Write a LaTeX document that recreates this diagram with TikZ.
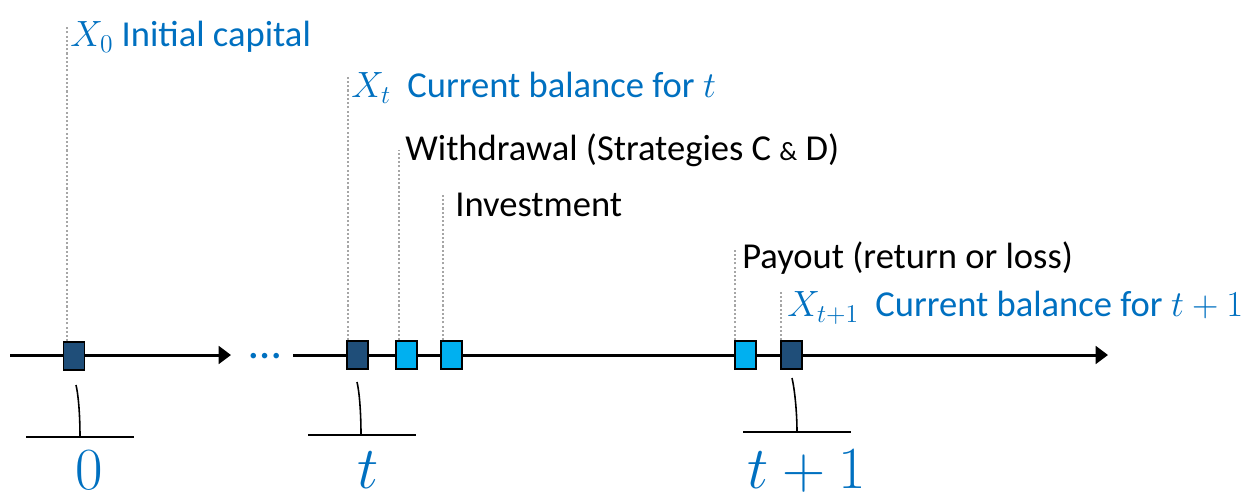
\RequirePackage{fix-cm}
\documentclass[tikz,border=0pt]{standalone}
\usepackage{fontspec}
\setmainfont{Carlito}
\usetikzlibrary{arrows.meta}
\definecolor{tblue}{HTML}{0070C0}
\definecolor{darkbox}{HTML}{1F4E79}
\definecolor{lightbox}{HTML}{00B0F0}
\begin{document}
\begin{tikzpicture}[x=0.02cm,y=-0.02cm,
 evbox/.style={draw=black,line width=0.8pt,minimum width=0.42cm,minimum height=0.56cm,inner sep=0pt},
 darkev/.style={evbox,fill=darkbox},
 lightev/.style={evbox,fill=lightbox},
 guide/.style={draw=gray!70,line width=0.6pt,dash pattern=on 1.2pt off 1.2pt},
 lbl/.style={anchor=west,inner sep=0pt,font=\fontsize{20.8}{24}\selectfont},
 bluelbl/.style={lbl,text=tblue},
 axisline/.style={line width=1.7pt,-{Triangle[length=7pt,width=10pt]}},
 tickln/.style={line width=0.9pt},
 big/.style={text=tblue,inner sep=0pt,anchor=base,font=\fontsize{34}{40}\selectfont}
]
\useasboundingbox (0,0) rectangle (1257,495);
% axis
\coordinate (a0) at (10,355);
\coordinate (a1) at (231,355);
\coordinate (a2) at (293,355);
\coordinate (a3) at (1108,355);
\draw[axisline] (a0) -- (a1);
\draw[axisline] (a2) -- (a3);
\node[text=tblue,inner sep=0pt,anchor=base,font=\fontsize{26}{30}\selectfont] (dots) at (265,358) {\textellipsis};
% boxes
\node[darkev] (b0) at (74,356) {};
\node[darkev] (bt) at (357.5,355) {};
\node[lightev] (bw) at (406.5,355) {};
\node[lightev] (bi) at (451.5,355) {};
\node[lightev] (bp) at (745.5,355) {};
\node[darkev] (bt1) at (791.5,355) {};
% labels
\node[bluelbl] (l0) at (70,37) {$X_0$ Initial capital};
\node[bluelbl] (lt) at (351,88) {$X_t$\hspace{0.45em}Current balance for $t$};
\node[lbl] (lw) at (405,150) {Withdrawal (Strategies C {\fontsize{15}{18}\selectfont\&} D)};
\node[lbl] (li) at (455,205) {Investment};
\node[lbl] (lp) at (742,258) {Payout (return or loss)};
\node[bluelbl] (lt1) at (787,308) {$X_{t+1}$\hspace{0.45em}Current balance for $t+1$};
% guide lines
\coordinate (g0) at (67,26);
\coordinate (gt) at (348,76);
\coordinate (gw) at (399,150);
\coordinate (gi) at (443,195);
\coordinate (gp) at (735,248);
\coordinate (gt1) at (781,292);
\draw[guide] (b0.north west -| g0) -- (g0);
\draw[guide] (bt.north west -| gt) -- (gt);
\draw[guide] (bw.north west -| gw) -- (gw);
\draw[guide] (bi.north west -| gi) -- (gi);
\draw[guide] (bp.north west -| gp) -- (gp);
\draw[guide] (bt1.north west -| gt1) -- (gt1);
% period markers
\coordinate (k0a) at (76,385); \coordinate (k0b) at (80,437);
\coordinate (h0a) at (26,437); \coordinate (h0b) at (134,437);
\draw[tickln] (k0a) .. controls (79,398) and (80,420) .. (k0b);
\draw[tickln] (h0a) -- (h0b);
\node[big] (n0) at (89,489) {$0$};
\coordinate (kta) at (357,382); \coordinate (ktb) at (361,435);
\coordinate (hta) at (308,435); \coordinate (htb) at (416,435);
\draw[tickln] (kta) .. controls (360,395) and (361,418) .. (ktb);
\draw[tickln] (hta) -- (htb);
\node[big] (nt) at (368,488) {$t$};
\coordinate (k1a) at (792,378); \coordinate (k1b) at (797,432);
\coordinate (h1a) at (743,432); \coordinate (h1b) at (851,432);
\draw[tickln] (k1a) .. controls (795,391) and (797,414) .. (k1b);
\draw[tickln] (h1a) -- (h1b);
\node[big] (nt1) at (807,488) {$t+1$};
\end{tikzpicture}
\end{document}
